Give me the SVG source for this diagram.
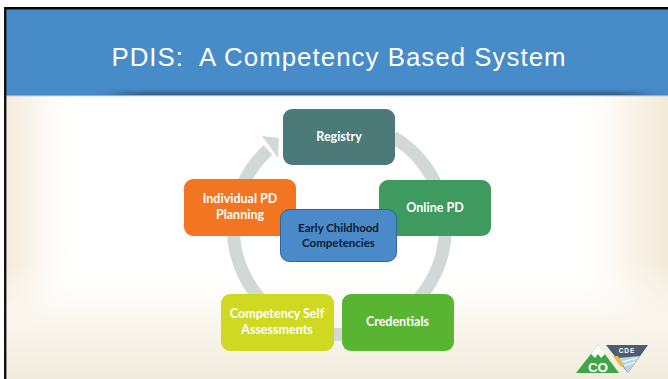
<svg xmlns="http://www.w3.org/2000/svg" width="668" height="379" viewBox="0 0 668 379">
<defs>
<linearGradient id="bgL" x1="0" x2="1" y1="0" y2="0"><stop offset="0" stop-color="#f3ead9"/><stop offset="0.05" stop-color="#fbf7ef"/><stop offset="0.12" stop-color="#fff" stop-opacity="0"/><stop offset="0.85" stop-color="#fff" stop-opacity="0"/><stop offset="0.93" stop-color="#fbf7ef"/><stop offset="1" stop-color="#f3ead9"/></linearGradient>
<linearGradient id="bgB" x1="0" x2="0" y1="0" y2="1"><stop offset="0" stop-color="#fff" stop-opacity="0"/><stop offset="0.6" stop-color="#fff" stop-opacity="0"/><stop offset="0.8" stop-color="#faf6ee"/><stop offset="1" stop-color="#f1ebdc"/></linearGradient>
<filter id="blur" x="-5%" y="-200%" width="110%" height="500%"><feGaussianBlur stdDeviation="14 2"/></filter>
<clipPath id="hdr"><rect x="6" y="9" width="662" height="86"/></clipPath>
<style>
.n{stroke-width:1}
.w{font:700 12.500px Lato,"Open Sans","Liberation Sans",sans-serif;fill:#fff;text-anchor:middle}
.d{font:700 11.500px Lato,"Open Sans","Liberation Sans",sans-serif;fill:#0a1a30;text-anchor:middle}
.r{fill:none;stroke:#d0d9d8;stroke-width:13}
.l{font-family:"Liberation Sans",sans-serif;font-weight:700;fill:#fff;text-anchor:middle}
</style>
</defs>
<rect width="668" height="379" fill="#fff"/>
<rect x="5" y="95" width="663" height="284" fill="url(#bgL)"/>
<rect x="5" y="95" width="663" height="284" fill="url(#bgB)"/>
<rect x="6" y="9" width="662" height="86" fill="#488bc9"/>
<g clip-path="url(#hdr)"><rect x="120" y="92" width="520" height="6" fill="#35597e" filter="url(#blur)"/></g>
<rect x="6" y="95" width="662" height="1.200" fill="#8fb0cf"/>
<rect x="4" y="7" width="664" height="2.400" fill="#000"/>
<rect x="4" y="7" width="2.400" height="372" fill="#111"/>
<text id="title" x="339" y="66" font-family="'Liberation Sans',Arial,sans-serif" font-size="25.800" letter-spacing="1.050" fill="#fff" text-anchor="middle" xml:space="preserve">PDIS:  A Competency Based System</text>
<g id="connectors">
<path class="r" d="M393 137 A106 106 0 1 1 268 150"/>
<polygon points="262,136 279,138 278,158" fill="#d0d9d8"/>
</g>
<g id="registry"><rect class="n" x="283" y="109" width="112" height="56" rx="9" fill="#4b7a78"/><text class="w" x="339" y="141">Registry</text></g>
<g id="online-pd"><rect class="n" x="379" y="180" width="112" height="56" rx="9" fill="#3f9a5f"/><text class="w" x="435" y="212">Online PD</text></g>
<g id="credentials"><rect class="n" x="342" y="294" width="112" height="57" rx="9" fill="#58b431"/><text class="w" x="397.500" y="326">Credentials</text></g>
<g id="self-assessments"><rect class="n" x="221" y="294" width="113" height="57" rx="9" fill="#cfd921"/><text class="w" x="277" y="318">Competency Self</text><text class="w" x="277" y="334">Assessments</text></g>
<g id="planning"><rect class="n" x="184" y="179" width="112" height="57" rx="9" fill="#f27622"/><text class="w" x="240" y="203">Individual PD</text><text class="w" x="240" y="219">Planning</text></g>
<g id="competencies"><rect x="280.500" y="209.500" width="116" height="52" rx="9" fill="#4a8ac8" stroke="#2f659c"/><text class="d" x="338.500" y="232">Early Childhood</text><text class="d" x="338.500" y="247">Competencies</text></g>
<g id="logo">
<polygon points="576,373 598,345 619,373" fill="#3ea648"/>
<polygon points="591,354 598,345 605,354 601,358 598,354 595,358" fill="#fff"/>
<text class="l" x="598" y="372" font-size="13.500">CO</text>
<polygon points="606,345 648,345 628,373" fill="#4a5d73"/>
<polygon points="618,358 640,356 628,373" fill="#b9d6e6"/>
<polygon points="613,356 618,356 624,365 621,367" fill="#e9b84a"/>
<path d="M622 362 L637 358 M624 366 L635 362" stroke="#fff" stroke-width="1" fill="none"/>
<text class="l" x="627" y="353" font-size="6.500" letter-spacing="1">CDE</text>
</g>
</svg>
